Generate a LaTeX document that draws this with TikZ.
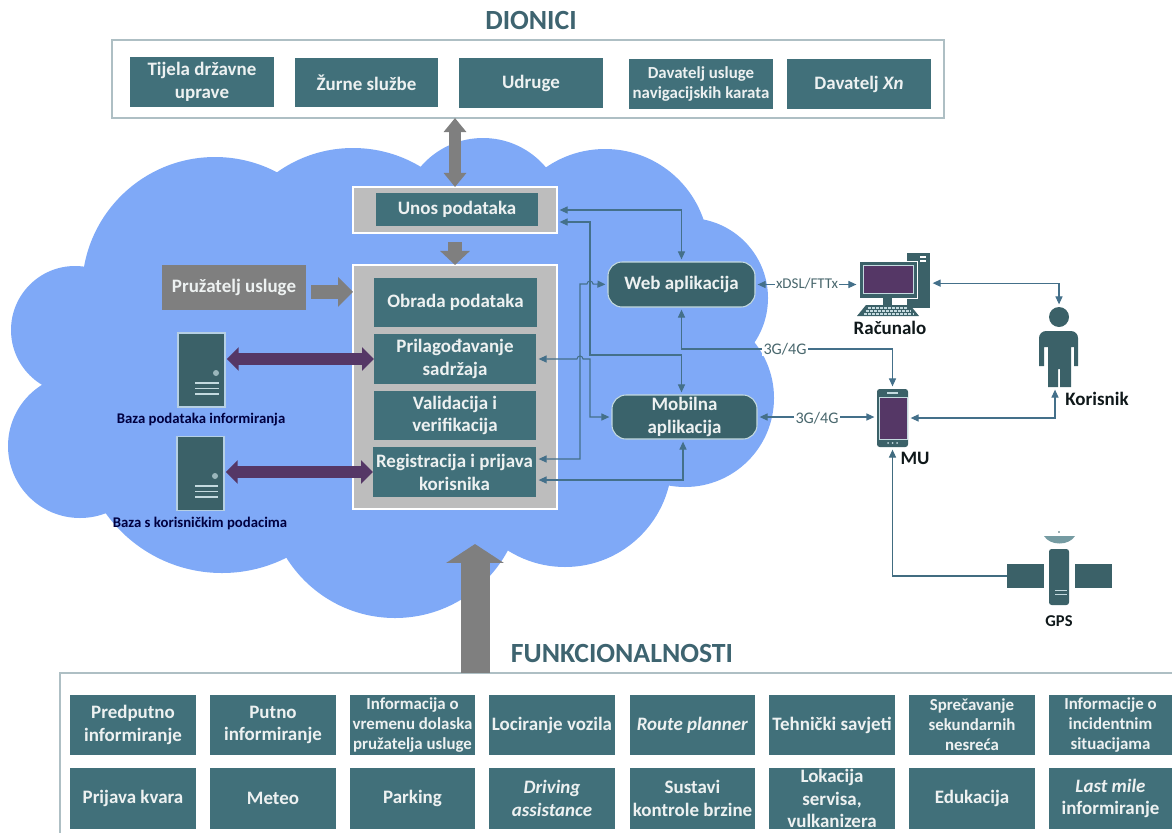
\documentclass[tikz,border=0pt]{standalone}
\usepackage{fontspec}
\setmainfont{Carlito}
\usetikzlibrary{arrows.meta}
\definecolor{cloudblue}{HTML}{7FA9F7}
\definecolor{boxteal}{HTML}{41707A}
\definecolor{iconteal}{HTML}{3B6168}
\definecolor{appteal}{HTML}{3A636B}
\definecolor{panelgray}{HTML}{BDBDBD}
\definecolor{arrowgray}{HTML}{7F7F7F}
\definecolor{deeppurple}{HTML}{553766}
\definecolor{linkblue}{HTML}{44708A}
\definecolor{paleline}{HTML}{C4DADF}
\definecolor{boxedge}{HTML}{AEBFC4}
\definecolor{whitetext}{HTML}{EDF1F1}
\definecolor{headteal}{HTML}{3E6470}
\tikzset{
  wh/.style 2 args={minimum width=#1*0.02cm, minimum height=#2*0.02cm, inner sep=0pt, outer sep=0pt},
  tealbox/.style={fill=boxteal, text=whitetext, align=center, font=\bfseries\fontsize{10.8}{13}\selectfont},
  smallbox/.style={tealbox, font=\bfseries\fontsize{9.6}{11.4}\selectfont},
  bigbox/.style={tealbox, font=\bfseries\fontsize{10.8}{13}\selectfont},
  appbox/.style={bigbox, fill=appteal, draw=paleline, line width=0.6pt, rounded corners=0.28cm},
  panelbox/.style={fill=panelgray, draw=white, line width=1.5pt},
  serverbox/.style={fill=iconteal, draw=paleline!80!cloudblue, line width=0.7pt},
  iconbox/.style={fill=iconteal},
  conn/.style={draw=linkblue, line width=0.6pt, shorten <=1.5pt, shorten >=1.5pt, {Triangle[length=4.5pt,width=4pt]}-{Triangle[length=4.5pt,width=4pt]}},
  toconn/.style={draw=linkblue!70!iconteal, line width=0.6pt, shorten >=1.5pt, -{Triangle[length=4.5pt,width=4pt]}},
  linklabel/.style={fill=white, text=iconteal!80!gray, inner sep=0.8pt, font=\fontsize{9.2}{11}\selectfont},
  iconlabel/.style={text=black!75!iconteal, font=\bfseries\fontsize{10.8}{12}\selectfont},
  dblabel/.style={text=black!75!blue, font=\bfseries\fontsize{8.4}{10}\selectfont},
  headlabel/.style={text=headteal, font=\bfseries\fontsize{15.8}{18}\selectfont}
}
\begin{document}
\begin{tikzpicture}[x=0.02cm, y=-0.02cm]
\useasboundingbox (0,0) rectangle (1172,832);

% Draw the cloud
\fill[cloudblue] (100,250) rectangle (650,500);
\fill[cloudblue] (215,290) circle (133);
\fill[cloudblue] (353,279) circle (131);
\fill[cloudblue] (483,220) circle (82);
\fill[cloudblue] (605,253) circle (104);
\fill[cloudblue] (688,298) circle (80);
\fill[cloudblue] (685,398) circle (89);
\fill[cloudblue] (565,460) circle (107);
\fill[cloudblue] (395,490) circle (128);
\fill[cloudblue] (222,430) circle (143);
\fill[cloudblue] (80,446) circle (72);
\fill[cloudblue] (75,330) circle (64);

% Stakeholders on top
\node[headlabel] (dionici) at (531,20) {DIONICI};
\node[draw=boxedge, line width=0.6pt, fill=white, wh={832}{78}] (stakeholders) at (528,79) {};
\node[tealbox, wh={144}{50}] (tijela) at (202,82) {Tijela državne\\uprave};
\node[tealbox, wh={143}{49}] (zurne) at (366.5,82.5) {Žurne službe};
\node[tealbox, wh={144}{50}] (udruge) at (531,83) {Udruge};
\node[smallbox, wh={144}{50}] (karte) at (701,84) {Davatelj usluge\\navigacijskih karata};
\node[tealbox, wh={144}{50}] (davateljxn) at (859,84) {Davatelj \textit{Xn}};

% Panels in the middle
\node[panelbox, wh={204}{46}] (unospanel) at (455,210) {};
\node[bigbox, wh={162}{33}] (unos) at (457,209.5) {Unos podataka};
\node[panelbox, wh={204}{244}] (mainpanel) at (455,387) {};
\node[bigbox, wh={163}{49}] (obrada) at (455.5,302.5) {Obrada podataka};
\node[bigbox, wh={162}{50}] (prilag) at (455,359) {Prilagođavanje\\sadržaja};
\node[bigbox, wh={162}{49}] (valid) at (455,415.5) {Validacija i\\verifikacija};
\node[bigbox, wh={163}{50}] (reg) at (454.5,472) {Registracija i prijava\\korisnika};
\node[bigbox, fill=arrowgray, wh={144}{45}] (pruzatelj) at (234,287.5) {Pružatelj usluge};

% Applications
\node[appbox, wh={147}{45}] (webapp) at (681.5,284.5) {Web aplikacija};
\node[appbox, wh={145}{44}] (mobapp) at (684.5,417) {Mobilna\\aplikacija};

% Servers
\node[serverbox, wh={47}{74}] (server1) at (201.5,370) {};
\fill[paleline!70!iconteal] (216,373) circle (3);
\draw[paleline, line width=0.8pt] (195,383) -- (219,383);
\draw[paleline, line width=0.8pt] (195,388.5) -- (219,388.5);
\draw[paleline, line width=0.8pt] (195,394) -- (219,394);
\node[dblabel] (server1label) at (201,420) {Baza podataka informiranja};
\node[serverbox, wh={47}{74}] (server2) at (200.5,473.5) {};
\fill[paleline!70!iconteal] (215,476) circle (3);
\draw[paleline, line width=0.8pt] (195,486) -- (218,486);
\draw[paleline, line width=0.8pt] (195,491.5) -- (218,491.5);
\draw[paleline, line width=0.8pt] (195,497) -- (218,497);
\node[dblabel] (server2label) at (200,523) {Baza s korisničkim podacima};

% Big arrows
\draw[arrowgray, line width=6.8pt, {Triangle[length=8pt,width=12.5pt]}-{Triangle[length=8pt,width=12.5pt]}] (stakeholders.south -| unospanel.north) -- (unospanel.north);
\draw[arrowgray, line width=8.5pt, shorten <=5pt, -{Triangle[length=8pt,width=16.5pt]}] (unospanel.south) -- (mainpanel.north);
\draw[arrowgray, line width=8pt, shorten <=3pt, -{Triangle[length=8.5pt,width=16.5pt]}] ([yshift=-2.5pt]pruzatelj.east) -- ([yshift=-2.5pt]pruzatelj.east -| mainpanel.west);
\draw[deeppurple, line width=6.8pt, shorten <=1pt, {Triangle[length=6.8pt,width=13pt]}-{Triangle[length=6.8pt,width=13pt]}] (server1.east |- prilag.west) -- (prilag.west);
\draw[deeppurple, line width=6.8pt, shorten <=1pt, {Triangle[length=6.8pt,width=13pt]}-{Triangle[length=6.8pt,width=13pt]}] (server2.east |- reg.west) -- (reg.west);

% Computer
\node[iconbox, wh={23}{55}] (tower) at (918.5,280.5) {};
\fill[white] (920,256) rectangle (926,258);
\fill[white] (920,260) rectangle (926,262);
\node[iconbox, draw=white, line width=0.5pt, wh={58}{37}] (monitor) at (888,279.5) {};
\fill[deeppurple, draw=paleline, line width=0.5pt] (863,265) rectangle (913,293);
\fill[iconteal] (883,298) rectangle (892,305);
\fill[iconteal] (866,305) -- (910,305) -- (919,316) -- (857,316) -- cycle;
\draw[paleline, line width=0.7pt, dash pattern=on 1.5pt off 0.8pt] (868,308) -- (908,308);
\draw[paleline, line width=0.7pt, dash pattern=on 1.5pt off 0.8pt] (866,311) -- (911,311);
\draw[paleline, line width=0.7pt, dash pattern=on 1.5pt off 0.8pt] (864,314) -- (913,314);
\node[iconlabel] (racunalolabel) at (890,328) {Računalo};

% User
\node[iconbox, circle, wh={20}{20}] (head) at (1059,317) {};
\fill[iconteal] (1039,366) [rounded corners=4pt] -- (1039,331) -- (1078,331) [sharp corners] -- (1078,366) -- (1074,366) -- (1074,347) -- (1071,347) -- (1071,387) -- (1060,387) -- (1060,369) -- (1058,369) -- (1058,387) -- (1048,387) -- (1048,347) -- (1044,347) -- (1044,366) -- cycle;
\coordinate (feet) at (1055,387);
\node[iconlabel] (korisniklabel) at (1097,399) {Korisnik};

% Phone
\node[iconbox, rounded corners=1.5pt, wh={31}{58}] (phone) at (892.5,418) {};
\fill[deeppurple, draw=paleline, line width=0.5pt] (879,397) rectangle (907,439);
\draw[paleline, line width=0.6pt] (887,393) -- (898,393);
\fill[paleline] (888,443) circle (1);
\fill[paleline] (892.5,443) circle (1);
\fill[paleline] (897,443) circle (1);
\node[iconlabel] (mulabel) at (915,458) {MU};

% Satellite
\node[iconbox, wh={37}{24}] (gpsleft) at (1025.5,576) {};
\node[iconbox, wh={37}{24}] (gpsright) at (1093.5,576) {};
\node[iconbox, rounded corners=1.5pt, wh={20}{56}] (gpsbody) at (1059,577) {};
\fill[boxteal!60!paleline] (1044,536) .. controls (1050,546) and (1069,546) .. (1075,536) -- cycle;
\fill[iconteal] (1059,532) circle (0.8);
\draw[paleline, line width=0.5pt] (1055,590) -- (1067,590);
\draw[paleline, line width=0.5pt] (1055,594) -- (1067,594);
\node[iconlabel, font=\bfseries\fontsize{9.4}{11}\selectfont] (gpslabel) at (1059,621) {GPS};

% Connectors
\coordinate (unostrunk) at (590,222);
\coordinate (mobtrunk) at (590,355);
\coordinate (regtrunk) at (580,459);
\coordinate (regweb) at (580,284);
\coordinate (regmob) at (683,480);
\coordinate (link3g) at (785,349);
\draw[conn] (unospanel.east) -| (webapp.north);
\draw[conn] (unospanel.east |- unostrunk) -| (mobtrunk) -| (webapp.south |- mobapp.north);
\draw[conn] (prilag.east) -- (577,359) arc[start angle=180, end angle=360, radius=3] -- (590,359) |- (mobapp.west);
\draw[conn] (reg.east |- regtrunk) -| (regweb) -- (587,284) arc[start angle=180, end angle=360, radius=3] -- (webapp.west);
\draw[conn] (reg.east |- regmob) -| (mobapp.south -| regmob);
\draw[conn] (webapp.south) |- (link3g) -| (phone.north);
\draw[conn] (webapp.east) -- (webapp.east -| monitor.west);
\draw[conn] (mobapp.east) -- (phone.west |- mobapp.east);
\draw[conn] ([yshift=-1.5pt]tower.east) -| (head.north);
\draw[conn] (phone.east) -| (feet);
\draw[toconn] (gpsleft.west) -| (phone.south);
\node[linklabel] (xdsllabel) at (807,284) {\fontsize{8.5}{10}\selectfont xDSL/FTTx};
\node[linklabel] (label3ga) at (link3g) {3G/4G};
\node[linklabel] (label3gb) at (817,418) {3G/4G};

% Functions at the bottom
\node[headlabel] (funkcionalnosti) at (622,653) {FUNKCIONALNOSTI};
\draw[boxedge, line width=0.6pt] (60,840) rectangle (1185,673);
\coordinate (funkbase) at (475,673);
\coordinate (funktip) at (475,544);
\draw[arrowgray, line width=16.5pt, -{Triangle[length=10.8pt,width=32.4pt]}] (funkbase) -- (funktip);
\node[tealbox, wh={126}{60}] (predputno) at (133,725) {Predputno\\informiranje};
\node[tealbox, wh={126}{60}] (putno) at (273,725) {Putno\\informiranje};
\node[smallbox, wh={125}{60}] (vrijeme) at (412.5,725) {Informacija o\\vremenu dolaska\\pružatelja usluge};
\node[tealbox, wh={126}{60}] (lociranje) at (552,725) {Lociranje vozila};
\node[tealbox, wh={125}{60}] (route) at (692.5,725) {\textit{Route planner}};
\node[tealbox, wh={126}{60}] (savjeti) at (832,725) {Tehnički savjeti};
\node[smallbox, wh={126}{60}] (nesrece) at (972,725) {Sprečavanje\\sekundarnih\\nesreća};
\node[smallbox, wh={123}{60}] (incidenti) at (1110.5,725) {Informacije o\\incidentnim\\situacijama};
\node[tealbox, wh={126}{61}] (kvar) at (133,798.5) {Prijava kvara};
\node[tealbox, wh={126}{61}] (meteo) at (273,798.5) {Meteo};
\node[tealbox, wh={125}{61}] (parking) at (412.5,798.5) {Parking};
\node[tealbox, wh={126}{61}] (driving) at (552,798.5) {\textit{Driving}\\\textit{assistance}};
\node[tealbox, wh={125}{61}] (brzina) at (692.5,798.5) {Sustavi\\kontrole brzine};
\node[tealbox, wh={126}{61}] (servis) at (832,798.5) {Lokacija\\servisa,\\vulkanizera};
\node[tealbox, wh={126}{61}] (edukacija) at (972,798.5) {Edukacija};
\node[tealbox, wh={123}{61}] (lastmile) at (1110.5,798.5) {\textit{Last mile}\\informiranje};
\end{tikzpicture}
\end{document}
